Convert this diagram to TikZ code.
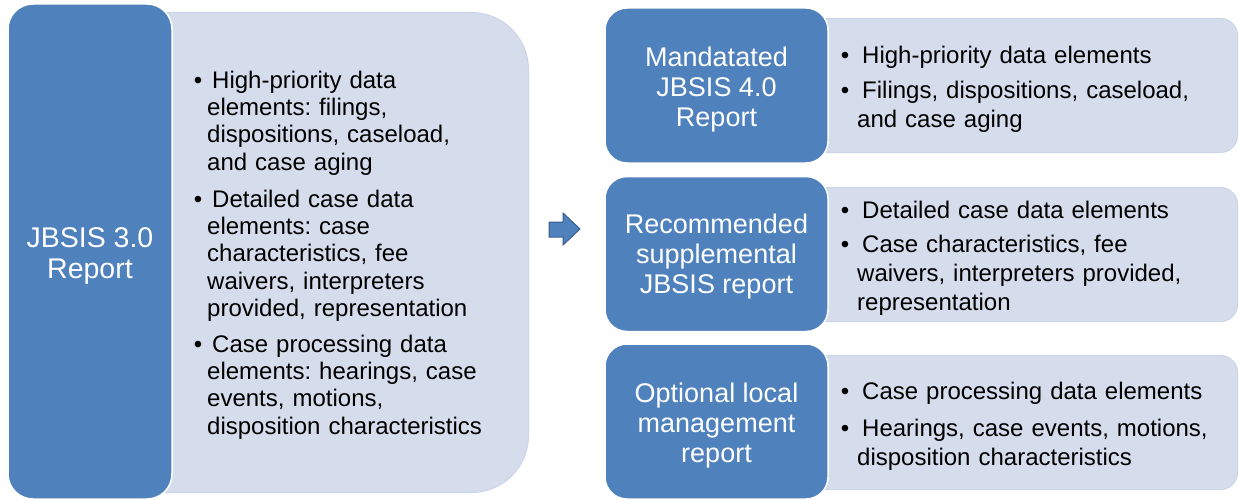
\documentclass[tikz,border=0pt]{standalone}
\usepackage{fontspec}
\setmainfont{Liberation Sans}
\setlength{\parindent}{0pt}
\frenchspacing
\definecolor{blu}{HTML}{4F81BD}
\definecolor{lite}{RGB}{213,220,235}
\definecolor{liteedge}{RGB}{203,212,232}
\definecolor{arrowedge}{HTML}{385D8A}
\newcommand{\bfl}{\noindent\rule{0pt}{20pt}\llap{\textbullet\hspace{5pt}}\hspace{5pt}}
\newcommand{\bfr}{\noindent\rule{0pt}{20pt}\llap{\textbullet\hspace{8pt}}\hspace{5pt}}
\begin{document}
\begin{tikzpicture}[x=1pt,y=-1pt,
  bluebox/.style={fill=blu, draw=white, line width=1.5pt, rounded corners=22pt, inner sep=0pt},
  bluetext/.style={text=white, align=center, inner sep=0pt, font=\fontsize{27}{30}\selectfont},
  litebox/.style={fill=lite, draw=liteedge, line width=1pt, inner sep=0pt},
  btxt/.style={anchor=north west, inner sep=0pt, align=left, font=\fontsize{24}{27.3}\selectfont, text width=320pt},
  rtxt/.style={anchor=north west, inner sep=0pt, align=left, font=\fontsize{24}{29}\selectfont, text width=380pt},
]
\useasboundingbox (0,0) rectangle (1239,500);
% left group
\node[litebox, rounded corners=57pt, minimum width=428, minimum height=480, anchor=north west] (L) at (100,12) {};
\node[bluebox, rounded corners=25pt, minimum width=164, minimum height=495] (j3) at (90,251.5) {};
\node[bluetext, font=\fontsize{28.5}{31}\selectfont] (j3t) at ([yshift=-5pt]j3.center) {JBSIS 3.0\\Report};
\node[btxt] (t1) at (207,68) {\bfl High-priority data\\elements: filings,\\dispositions, caseload,\\and case aging};
\node[btxt] (t2) at (207,187) {\bfl Detailed case data\\elements: case\\characteristics, fee\\waivers, interpreters\\provided, representation};
\node[btxt] (t3) at (207,332) {\bfl Case processing data\\elements: hearings, case\\events, motions,\\disposition characteristics};
% arrow
\draw[fill=blu, draw=arrowedge, line width=1pt] (549,222) -- (563,222) -- (563,213) -- (580,229) -- (563,245) -- (563,237) -- (549,237) -- cycle;
% right group
\node[litebox, rounded corners=17pt, minimum width=478, minimum height=134, anchor=north east] (l1) at (1238,18) {};
\node[litebox, rounded corners=17pt, minimum width=478, minimum height=134, anchor=north east] (l2) at (1238,187) {};
\node[litebox, rounded corners=17pt, minimum width=478, minimum height=134, anchor=north east] (l3) at (1238,355) {};
\node[bluebox, minimum width=223, minimum height=155] (b1) at (716.5,85.5) {};
\node[bluebox, minimum width=223, minimum height=155] (b2) at (716.5,254) {};
\node[bluebox, minimum width=223, minimum height=155] (b3) at (716.5,421.5) {};
\node[bluetext] (b1t) at ([yshift=-4.5pt]b1.center) {Mandatated\\JBSIS 4.0\\Report};
\node[bluetext] (b2t) at ([yshift=-3pt]b2.center) {Recommended\\supplemental\\JBSIS report};
\node[bluetext] (b3t) at ([yshift=-4.5pt]b3.center) {Optional local\\management\\report};
\node[rtxt] (r1a) at (857,43) {\bfr High-priority data elements};
\node[rtxt] (r1b) at (857,78) {\bfr Filings, dispositions, caseload,\\and case aging};
\node[rtxt] (r2a) at (857,198) {\bfr Detailed case data elements};
\node[rtxt] (r2b) at (857,232) {\bfr Case characteristics, fee\\waivers, interpreters provided,\\representation};
\node[rtxt] (r3a) at (857,379) {\bfr Case processing data elements};
\node[rtxt] (r3b) at (857,416) {\bfr Hearings, case events, motions,\\disposition characteristics};
\end{tikzpicture}
\end{document}
